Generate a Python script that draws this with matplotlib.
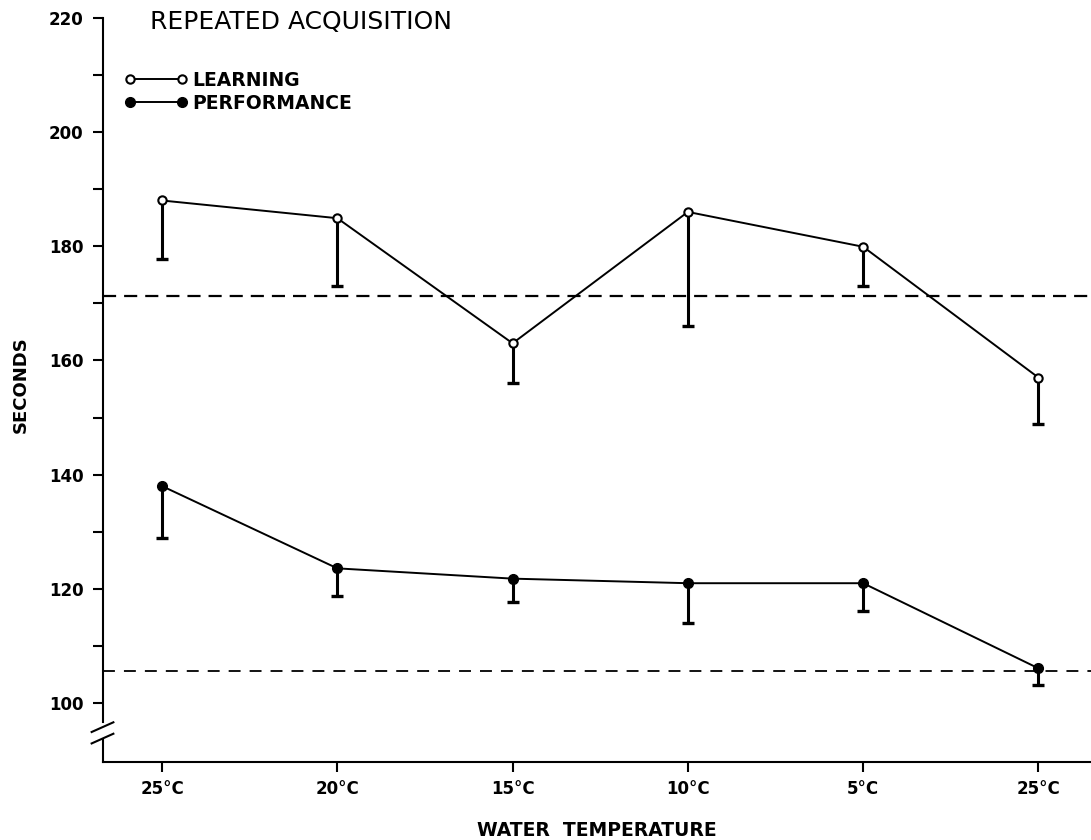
import numpy as np
import matplotlib
matplotlib.use('Agg')
import matplotlib.pyplot as plt

# Data
temps = ['25°C', '20°C', '15°C', '10°C', '5°C', '25°C']
learning = [188.0, 184.9, 163.0, 186.0, 179.9, 157.0]
learning_low = [177.7, 173.0, 156.1, 166.1, 173.0, 148.8]
performance = [138.0, 123.6, 121.8, 121.0, 121.0, 106.1]
performance_low = [128.9, 118.7, 117.7, 114.0, 116.1, 103.1]
learning_baseline = 171.2
performance_baseline = 105.7

plt.rcParams['font.family'] = ['DejaVu Sans']

fig = plt.figure(figsize=(10.91, 8.4), dpi=100)
ax = fig.add_axes([103 / 1091, 1 - 762 / 840, 988 / 1091, 762 / 840])

x = np.arange(len(temps))

# Baselines
ax.axhline(learning_baseline, color='black', lw=1.6, dashes=(5.9, 3.6), zorder=1)
ax.axhline(performance_baseline, color='black', lw=1.3, dashes=(6.6, 5), zorder=1)

# Error bars (lower only) with caps
for y, low in [(learning, learning_low), (performance, performance_low)]:
    ax.vlines(x, low, y, color='black', lw=2.2, zorder=2)
    ax.plot(x, low, linestyle='none', marker='_', ms=8, mew=2.4, color='black', zorder=2)

# Series
ax.plot(x, learning, color='black', lw=1.4, marker='o', ms=6, mew=1.5,
        mfc='white', mec='black', label='LEARNING', zorder=3)
ax.plot(x, performance, color='black', lw=1.4, marker='o', ms=7,
        mfc='black', mec='black', label='PERFORMANCE', zorder=3)

# Axes limits and ticks
ax.set_xlim(-0.337, 5.30)
ax.set_ylim(89.7, 223.1)
ax.set_xticks(x)
ax.set_xticklabels(temps, fontsize=12, fontweight='bold')
ax.set_yticks(np.arange(100, 221, 20))
ax.set_yticks(np.arange(110, 220, 20), minor=True)
ax.tick_params(axis='y', which='both', direction='out', length=7, width=1.5,
               labelsize=12, pad=7)
ax.tick_params(axis='x', direction='out', length=7, width=1.5, pad=6)
for lbl in ax.get_yticklabels():
    lbl.set_fontweight('bold')

for side in ['top', 'right', 'left']:
    ax.spines[side].set_visible(False)
ax.spines['bottom'].set_linewidth(1.5)

# Broken left axis
trans = ax.get_yaxis_transform()
ax.plot([0, 0], [220, 96.7], color='black', lw=1.5, transform=trans, clip_on=False)
ax.plot([0, 0], [93.5, 89.7], color='black', lw=1.5, transform=trans, clip_on=False)
for yc in [95.8, 93.8]:
    ax.plot([-0.0115, 0.0105], [yc - 0.85, yc + 0.85], color='black', lw=1.5,
            transform=trans, clip_on=False)

# Labels and title
ax.set_xlabel('WATER  TEMPERATURE', fontsize=13.5, fontweight='bold')
ax.xaxis.set_label_coords(0.5, -0.077)
ax.set_ylabel('SECONDS', fontsize=13, fontweight='bold')
ax.yaxis.set_label_coords(-0.074, 0.495)
ax.text(0.0476, 0.971, 'REPEATED ACQUISITION', transform=ax.transAxes,
        fontsize=18, ha='left', va='center')

ax.legend(loc='upper left', bbox_to_anchor=(0.0217, 0.907), frameon=False,
          numpoints=2, handlelength=3.37, handletextpad=0.23, labelspacing=0.21,
          borderpad=0, borderaxespad=0,
          prop={'size': 13.5, 'weight': 'bold'})

fig.savefig('out.png', dpi=100)
